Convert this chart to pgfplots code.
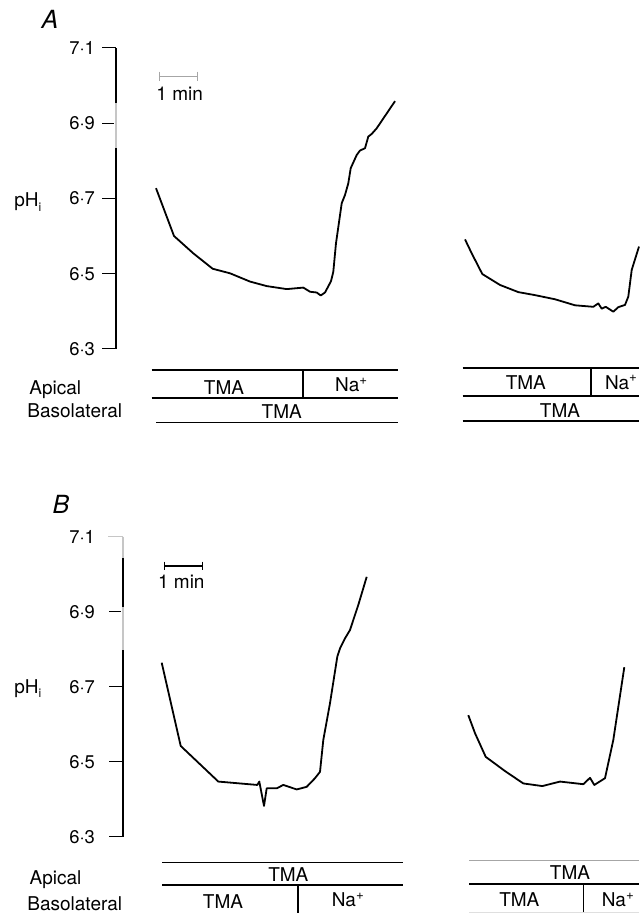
\documentclass[border=0pt]{standalone}
\usepackage{fontspec}
\setmainfont{TeX Gyre Heros}
\usepackage{pgfplots}
\pgfplotsset{compat=1.18}
\usepackage{pgfplotstable}

% x in picture pixels (1 min = 38.4 px), y = pHi
\pgfplotstableread{
x y
156 6.727
174 6.600
193.3 6.554
212.7 6.513
230 6.501
250 6.479
266.7 6.467
286.7 6.459
303.3 6.463
310 6.452
316.7 6.450
320.7 6.442
325 6.450
331 6.480
333.3 6.505
336 6.581
341.7 6.687
345 6.709
348.3 6.740
350.7 6.780
356.7 6.815
360 6.827
365 6.833
368.3 6.864
371.7 6.871
376.7 6.886
395 6.958
}\traceAa

\pgfplotstableread{
x y
465 6.591
471.7 6.554
482.3 6.499
500 6.470
518.3 6.451
535 6.443
555 6.432
575 6.416
593.3 6.412
598.3 6.421
601.7 6.407
605.7 6.412
613.3 6.399
618.3 6.411
625 6.417
628.3 6.439
631.7 6.510
639 6.572
}\traceAb

\pgfplotstableread{
x y
161.7 6.764
180.7 6.542
218.3 6.447
257.3 6.438
259.3 6.447
264 6.382
266.7 6.429
276.7 6.429
283.3 6.438
296.7 6.426
306.7 6.433
315 6.456
320 6.473
323.3 6.558
330 6.656
337.3 6.780
340 6.802
345 6.829
350 6.851
353.3 6.878
358.3 6.918
366.7 6.993
}\traceBa

\pgfplotstableread{
x y
468.3 6.624
475 6.576
485.7 6.513
505 6.475
523.3 6.442
542.3 6.435
560 6.447
583.3 6.440
590 6.457
594.3 6.438
605 6.456
613.3 6.558
624.3 6.752
}\traceBb

\begin{document}
\begin{tikzpicture}[x=0.5pt,y=0.5pt,font=\fontsize{9.5}{11}\selectfont]
\path[use as bounding box] (0,0) rectangle (639,913);

\pgfplotsset{
  phaxis/.style={
    scale only axis,
    ymin=6.3, ymax=7.1,
    axis x line=none, axis y line*=left,
    ytick={6.3,6.5,6.7,6.9,7.1},
    yticklabels={6·3,6·5,6·7,6·9,7·1},
    tick align=outside, major tick length=7pt,
    y axis line style={line width=0.75pt},
    ytick style={line width=0.5pt, black},
    yticklabel style={font=\fontsize{9.2}{11}\selectfont},
    clip=false,
  },
  trace/.style={black, line width=0.9pt, line join=round, no marks},
}

% ---------------- Panel A ----------------
\begin{axis}[phaxis,
  at={(58pt,282pt)}, anchor=south west,
  width=261.5pt, height=150.65pt,
  xmin=116, xmax=639]
\addplot[trace] table {\traceAa};
\addplot[trace] table {\traceAb};
\end{axis}

% ---------------- Panel B ----------------
\begin{axis}[phaxis,
  at={(61.5pt,38.15pt)}, anchor=south west,
  width=258pt, height=150pt,
  xmin=123, xmax=639,
  yticklabel style={xshift=-3.5pt}]
\addplot[trace] table {\traceBa};
\addplot[trace] table {\traceBb};
\end{axis}

% annotations in pixel coordinates (y measured from the top)
\begin{scope}[shift={(0,913)}, yscale=-1]
% faded part of axis A
\draw[white, line width=1.6pt] (116,103) -- (116,148);
\draw[gray!45, line width=0.6pt] (116,103) -- (116,148);
% faded parts of axis B
\draw[white, line width=1.6pt] (123,536) -- (123,558);
\draw[gray!45, line width=0.6pt] (123,536.7) -- (123,558);
\draw[white, line width=1.2pt] (108,536.7) -- (122,536.7);
\draw[gray!45, line width=0.5pt] (108.3,536.7) -- (123,536.7);
\draw[white, line width=1.6pt] (123,607) -- (123,650);
\draw[gray!45, line width=0.6pt] (123,607) -- (123,650);

% panel letters and y labels
\node[anchor=base, font=\fontsize{12.5}{14}\selectfont\itshape] at (50,28.3) {A};
\node[anchor=base, font=\fontsize{12.5}{14}\selectfont\itshape] at (61,513.3) {B};
\node[anchor=base west, inner sep=0pt] at (14,206.7) {pH\raisebox{-0.45ex}{\fontsize{6}{7}\selectfont i}};
\node[anchor=base west, inner sep=0pt] at (14,693.3) {pH\raisebox{-0.45ex}{\fontsize{6}{7}\selectfont i}};

% scale bars
\draw[gray!70, line width=0.6pt] (159.3,76.3) -- (197.7,76.3);
\draw[gray!70, line width=0.6pt] (159.3,71.7) -- (159.3,81) (197.7,71.7) -- (197.7,81);
\node[anchor=base west, inner sep=0pt] at (156,100.7) {1 min};
\draw[black, line width=0.7pt] (164.3,566) -- (202.7,566);
\draw[black, line width=0.6pt] (164.3,561.7) -- (164.3,570) (202.7,561.7) -- (202.7,570);
\node[anchor=base west, inner sep=0pt] at (157.7,588.3) {1 min};

% ---------------- solution bars A ----------------
\node[anchor=base west, inner sep=0pt] at (29,395) {Apical};
\node[anchor=base west, inner sep=0pt] at (27,417.7) {Basolateral};
\begin{scope}[line width=0.8pt]
\draw (151.7,370) -- (397.7,370);
\draw (151.7,398.3) -- (397.7,398.3);
\draw (156,422.7) -- (397.7,422.7);
\draw[line width=1.1pt] (303.3,370) -- (303.3,398.3);
\draw (462.7,368.3) -- (639,368.3);
\draw (462.7,396) -- (639,396);
\draw (462.7,421) -- (639,421);
\draw (591,368.3) -- (591,396);
\end{scope}
\node[anchor=base, inner sep=0pt] at (224,394.3) {TMA};
\node[anchor=base, inner sep=0pt] at (351.7,391.7) {Na\textsuperscript{+}};
\node[anchor=base, inner sep=0pt] at (281.7,419) {TMA};
\node[anchor=base, inner sep=0pt] at (525.8,390) {TMA};
\node[anchor=base, inner sep=0pt] at (621.5,389.3) {Na\textsuperscript{+}};
\node[anchor=base, inner sep=0pt] at (560,417.7) {TMA};

% ---------------- solution bars B ----------------
\node[anchor=base west, inner sep=0pt] at (29.3,885) {Apical};
\node[anchor=base west, inner sep=0pt] at (27,910) {Basolateral};
\begin{scope}[line width=0.8pt]
\draw (162.3,862.7) -- (403.3,862.7);
\draw (162.3,885) -- (403.3,885);
\draw (297.7,885) -- (297.7,913);
\draw[gray!70, line width=0.5pt] (469,861) -- (639,861);
\draw (469,884.3) -- (639,884.3);
\draw (583.3,884.3) -- (583.3,913);
\draw[gray!25, line width=0.5pt] (469,912.3) -- (639,912.3);
\end{scope}
\node[anchor=base, inner sep=0pt] at (288.3,881.7) {TMA};
\node[anchor=base, inner sep=0pt] at (223,908.3) {TMA};
\node[anchor=base, inner sep=0pt] at (348.3,906.7) {Na\textsuperscript{+}};
\node[anchor=base, inner sep=0pt] at (570,879.3) {TMA};
\node[anchor=base, inner sep=0pt] at (519.3,906.7) {TMA};
\node[anchor=base, inner sep=0pt] at (618.3,906.7) {Na\textsuperscript{+}};
\end{scope}
\end{tikzpicture}
\end{document}
